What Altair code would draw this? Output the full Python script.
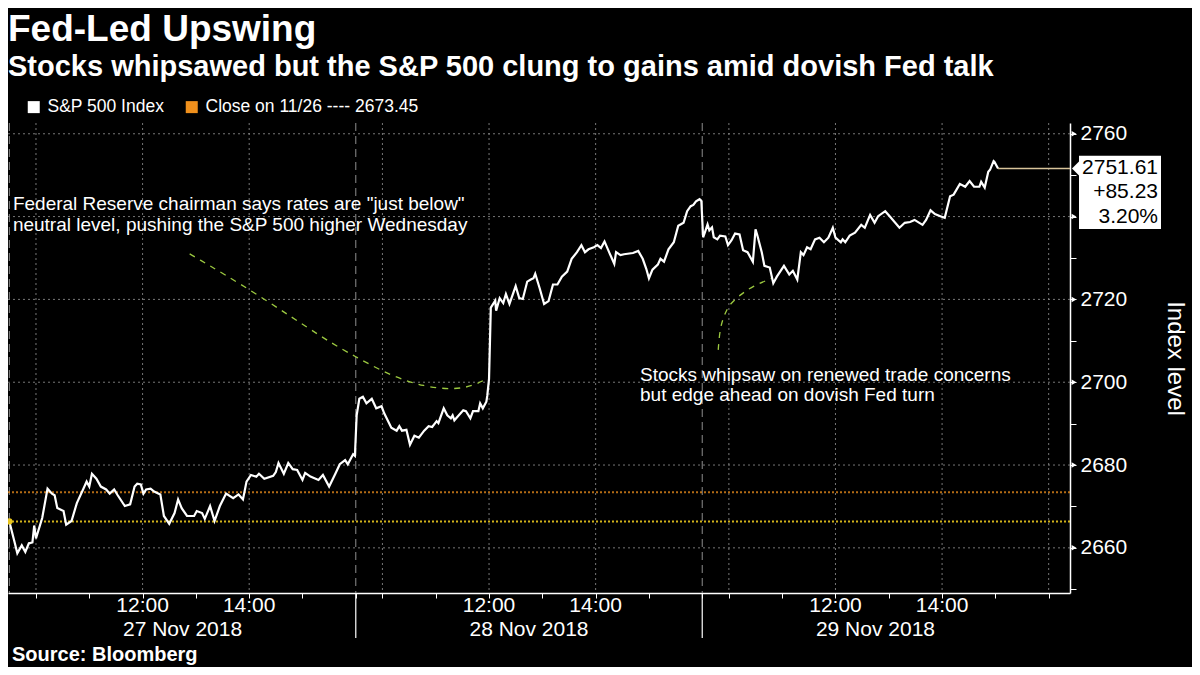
import altair as alt
import pandas as pd

FONT = "Liberation Sans"
TITLE = "Fed-Led Upswing"
SUBTITLE = "Stocks whipsawed but the S&P 500 clung to gains amid dovish Fed talk"
SERIES = "S&P 500 Index"
CLOSE_LABEL = "Close on 11/26 ---- 2673.45"
PRIOR_CLOSE = 2673.45
DAYS = ["27 Nov 2018", "28 Nov 2018", "29 Nov 2018"]
SOURCE = "Source: Bloomberg"

# ---- intraday S&P 500 ----
d1_time = ["09:30", "09:36", "09:39", "09:44", "09:48", "09:52", "09:56", "09:58", "10:00", "10:07",
           "10:13", "10:18", "10:21", "10:24", "10:31", "10:34", "10:40", "10:46", "10:53", "10:57",
           "11:00", "11:03", "11:08", "11:13", "11:19", "11:23", "11:28", "11:32", "11:40", "11:46",
           "11:51", "11:54", "11:58", "12:01", "12:04", "12:09", "12:13", "12:20", "12:24", "12:30",
           "12:36", "12:40", "12:44", "12:50", "12:58", "13:01", "13:07", "13:10", "13:16", "13:21",
           "13:27", "13:34", "13:42", "13:48", "13:53", "13:57", "14:02", "14:08", "14:11", "14:17",
           "14:27", "14:30", "14:33", "14:39", "14:44", "14:49", "14:54", "15:00", "15:03", "15:09",
           "15:18", "15:23", "15:30", "15:37", "15:42", "15:48", "15:51", "15:57", "15:59"]
d1_val = [2666.38, 2661.3, 2658.7, 2660.6, 2659.0, 2661.1, 2661.3, 2665.4, 2662.3, 2667.2,
          2674.3, 2673.1, 2672.7, 2669.6, 2668.9, 2665.6, 2666.5, 2670.8, 2674.1, 2676.0,
          2674.8, 2677.9, 2676.7, 2674.8, 2674.1, 2673.1, 2674.1, 2672.7, 2670.1, 2670.5,
          2674.8, 2675.5, 2675.3, 2673.1, 2674.1, 2674.3, 2673.6, 2672.9, 2667.7, 2665.8,
          2668.4, 2671.7, 2669.6, 2667.7, 2667.7, 2668.9, 2668.4, 2667.0, 2670.1, 2666.5,
          2670.1, 2673.1, 2672.0, 2672.9, 2671.7, 2676.0, 2677.6, 2677.2, 2677.9, 2676.7,
          2677.4, 2678.3, 2680.5, 2677.9, 2680.5, 2679.0, 2678.8, 2676.4, 2678.1, 2677.2,
          2676.4, 2677.6, 2674.8, 2677.9, 2680.2, 2681.2, 2680.2, 2682.6, 2682.2]

d2_time = ["09:31", "09:34", "09:38", "09:42", "09:48", "09:53", "09:59", "10:02", "10:10", "10:16",
           "10:19", "10:22", "10:27", "10:31", "10:36", "10:41", "10:47", "10:52", "10:56", "11:01",
           "11:03", "11:09", "11:13", "11:17", "11:19", "11:21", "11:26", "11:31", "11:34", "11:39",
           "11:42", "11:48", "11:50", "11:53", "11:57", "11:58", "12:00", "12:02", "12:07", "12:08",
           "12:12", "12:16", "12:19", "12:23", "12:30", "12:34", "12:38", "12:43", "12:47", "12:50",
           "12:52", "12:57", "13:02", "13:07", "13:12", "13:17", "13:22", "13:28", "13:33", "13:39",
           "13:44", "13:48", "13:52", "13:58", "14:02", "14:06", "14:10", "14:16", "14:21", "14:23",
           "14:28", "14:32", "14:42", "14:48", "14:53", "14:57", "15:00", "15:04", "15:10", "15:13",
           "15:17", "15:22", "15:28", "15:33", "15:39", "15:43", "15:47", "15:50", "15:53", "15:57",
           "15:59"]
d2_val = [2692.0, 2696.0, 2696.5, 2694.9, 2696.0, 2693.7, 2694.2, 2692.5, 2689.0, 2688.3,
          2689.4, 2688.3, 2688.5, 2684.9, 2687.1, 2686.6, 2688.3, 2689.4, 2689.2, 2690.6,
          2690.1, 2693.7, 2692.0, 2691.3, 2692.0, 2690.8, 2692.0, 2693.2, 2693.0, 2691.3,
          2693.0, 2693.0, 2694.9, 2693.7, 2695.3, 2696.7, 2700.8, 2718.0, 2719.7, 2717.3,
          2720.3, 2719.1, 2721.3, 2718.9, 2723.2, 2720.3, 2720.1, 2724.3, 2724.8, 2725.1,
          2726.2, 2722.7, 2718.9, 2719.6, 2723.6, 2723.6, 2725.5, 2726.7, 2729.8, 2731.4,
          2733.1, 2731.4, 2732.1, 2732.6, 2733.1, 2732.4, 2734.0, 2731.0, 2728.6, 2731.4,
          2730.7, 2730.9, 2731.2, 2731.7, 2729.8, 2727.4, 2725.1, 2727.2, 2728.4, 2729.8,
          2729.1, 2732.1, 2733.8, 2737.8, 2738.5, 2741.3, 2742.5, 2742.8, 2743.7, 2744.2,
          2743.8]

d3_time = ["09:31", "09:33", "09:36", "09:38", "09:41", "09:43", "09:47", "09:50", "09:56", "09:59",
           "10:03", "10:07", "10:12", "10:16", "10:21", "10:27", "10:30", "10:32", "10:37", "10:40",
           "10:46", "10:50", "10:54", "11:02", "11:08", "11:12", "11:17", "11:21", "11:24", "11:28",
           "11:32", "11:37", "11:42", "11:47", "11:52", "11:57", "12:00", "12:06", "12:08", "12:11",
           "12:16", "12:22", "12:29", "12:33", "12:39", "12:44", "12:48", "12:56", "13:01", "13:12",
           "13:18", "13:24", "13:29", "13:38", "13:42", "13:47", "13:52", "13:58", "14:03", "14:09",
           "14:13", "14:20", "14:26", "14:31", "14:36", "14:42", "14:44", "14:48", "14:52", "14:54",
           "14:58", "14:59", "15:03"]
d3_val = [2735.0, 2736.2, 2738.1, 2736.7, 2737.4, 2735.0, 2734.5, 2735.4, 2735.2, 2733.1,
          2734.3, 2735.9, 2735.7, 2731.9, 2731.4, 2729.1, 2736.9, 2735.5, 2731.4, 2728.1,
          2727.7, 2723.9, 2725.5, 2728.1, 2726.0, 2726.9, 2724.8, 2731.4, 2730.7, 2732.6,
          2732.1, 2734.5, 2734.9, 2733.8, 2734.9, 2737.3, 2734.9, 2733.8, 2734.5, 2733.8,
          2735.4, 2736.1, 2738.0, 2737.3, 2740.4, 2738.5, 2740.1, 2741.3, 2740.1, 2737.3,
          2738.5, 2738.7, 2739.2, 2738.0, 2739.2, 2741.5, 2740.6, 2740.1, 2739.7, 2744.9,
          2745.3, 2747.9, 2747.2, 2748.6, 2747.2, 2747.2, 2748.4, 2747.0, 2750.8, 2751.3,
          2753.4, 2753.2, 2751.61]

# annotation connectors (data units: day, time, index level)
conn1_time = ["12:53", "14:08", "15:26", "09:31", "10:10", "10:47", "11:20", "11:42", "11:57"]
conn1_day = [0, 0, 0, 1, 1, 1, 1, 1, 1]
conn1_val = [2731.0, 2721.5, 2710.2, 2706.0, 2701.5, 2698.9, 2698.2, 2699.1, 2700.8]
conn2_time = ["09:48", "09:50", "09:56", "10:01", "10:14", "10:27", "10:48"]
conn2_val = [2707.8, 2713.3, 2716.8, 2718.9, 2721.3, 2723.2, 2725.1]

note1 = ["Federal Reserve chairman says rates are \"just below\"",
         "neutral level, pushing the S&P 500 higher Wednesday"]
note1_pos = [(0, "09:34", 2743.0), (0, "09:34", 2738.0)]
note2 = ["Stocks whipsaw on renewed trade concerns", "but edge ahead on dovish Fed turn"]
note2_pos = [(1, "14:50", 2701.7), (1, "14:50", 2697.0)]

y_ticks = [2650, 2660, 2670, 2680, 2690, 2700, 2710, 2720, 2730, 2740, 2750, 2760]
y_grid = [2660, 2680, 2700, 2720, 2740, 2760]
hour_ticks = ["10:00", "11:00", "12:00", "13:00", "14:00", "15:00", "16:00"]
grid_times = ["10:00", "12:00", "14:00"]
label_times = ["12:00", "14:00"]

WHITE = "#ffffff"
ORANGE = "#f0901c"
YELLOW = "#e8c51e"
TAN = "#d8c49a"
GREEN = "#9cc940"
GRID = "#8c8c8c"


def tmin(day, hhmm):
    h, m = hhmm.split(":")
    return day * 390 + int(h) * 60 + int(m) - 570


W, H = 1062, 470
Y_DOMAIN = [2649.1, 2762.6]
PX = H / (Y_DOMAIN[1] - Y_DOMAIN[0])
BOX_UP, BOX_DOWN = 12.7, 60.5

rows = []
for d, (ts, vs) in enumerate([(d1_time, d1_val), (d2_time, d2_val), (d3_time, d3_val)]):
    for tt, vv in zip(ts, vs):
        rows.append({"t": tmin(d, tt), "v": vv, "series": SERIES})
line_df = pd.DataFrame(rows)
first_v = d1_val[0]
last_v = d3_val[-1]
last_t = tmin(2, d3_time[-1])
chg = last_v - first_v
pct = chg / first_v * 100

# axis labels hidden behind the last-value box
hide_lo = last_v - (BOX_DOWN + 8) / PX
hide_hi = last_v + (BOX_UP + 8) / PX

xscale = alt.Scale(domain=[-1.5, 1194], nice=False, zero=False)
yscale = alt.Scale(domain=Y_DOMAIN, nice=False, zero=False)

x_tick_vals = sorted(set(tmin(d, h) for d in range(3) for h in hour_ticks))
xaxis = alt.Axis(values=x_tick_vals, labels=False, grid=False, domainColor=WHITE, domainWidth=1.5,
                 tickColor=WHITE, tickSize=5, tickWidth=1, title=None)
yaxis = alt.Axis(orient="right", values=y_ticks, format="d",
                 labelExpr=(f"datum.value % 20 == 0 && (datum.value < {hide_lo:.2f} || "
                            f"datum.value > {hide_hi:.2f}) ? datum.label : ''"),
                 grid=False, domainColor=WHITE, domainWidth=1.5, tickColor=WHITE, tickSize=6,
                 labelPadding=4, labelColor=WHITE, labelFontSize=21, labelFont=FONT,
                 labelOverlap=False,
                 title="Index level", titleColor=WHITE, titleFontSize=24, titleFont=FONT,
                 titleFontWeight="normal", titleAngle=90, titleX=104, titleY=H / 2,
                 titleAlign="center", titleBaseline="middle")


def X(field="t"):
    return alt.X(f"{field}:Q", scale=xscale, axis=xaxis)


def Y(field="v"):
    return alt.Y(f"{field}:Q", scale=yscale, axis=yaxis)


hgrid = alt.Chart(pd.DataFrame({"v": y_grid})).mark_rule(
    color=GRID, strokeDash=[2, 3], strokeWidth=1, opacity=0.85).encode(y=Y())

vgrid_t = [tmin(d, h) for d in range(3) for h in grid_times] + [tmin(2, "16:00")]
vgrid = alt.Chart(pd.DataFrame({"t": vgrid_t})).mark_rule(
    color=GRID, strokeDash=[2, 3], strokeWidth=1, opacity=0.85).encode(x=X())

sep_df = pd.DataFrame({"t": [tmin(d, "09:30") for d in range(3)]})
sep = alt.Chart(sep_df).mark_rule(color="#8e8e8e", strokeDash=[8, 5], strokeWidth=1).encode(x=X())
sep_below = alt.Chart(pd.DataFrame({"t": [tmin(1, "09:30"), tmin(2, "09:30")]})).mark_rule(
    color=WHITE, strokeWidth=1.2).encode(x=X(), y=alt.value(H), y2=alt.value(H + 45))

close_rule = alt.Chart(pd.DataFrame({"v": [PRIOR_CLOSE]})).mark_rule(
    color=ORANGE, strokeDash=[2, 2], strokeWidth=2, opacity=0.75).encode(y=Y())
start_rule = alt.Chart(pd.DataFrame({"v": [first_v]})).mark_rule(
    color=YELLOW, strokeDash=[2, 2], strokeWidth=2, opacity=0.9).encode(y=Y())

conn_rows = [{"id": 1, "o": i, "t": tmin(d, tt), "v": vv}
             for i, (d, tt, vv) in enumerate(zip(conn1_day, conn1_time, conn1_val))]
conn_rows += [{"id": 2, "o": i, "t": tmin(2, tt), "v": vv}
              for i, (tt, vv) in enumerate(zip(conn2_time, conn2_val))]
conn = alt.Chart(pd.DataFrame(conn_rows)).mark_line(
    color=GREEN, strokeDash=[6, 6], strokeWidth=1.3, interpolate="basis").encode(
    x=X(), y=Y(), detail="id:N", order="o:Q")

main = alt.Chart(line_df).mark_line(color=WHITE, strokeWidth=2.2).encode(x=X(), y=Y())

start_pt = alt.Chart(pd.DataFrame({"t": [0], "v": [first_v]})).mark_point(
    filled=True, color=YELLOW, size=40, opacity=1).encode(x=X(), y=Y())

last_df = pd.DataFrame({"t": [last_t], "v": [last_v]})
tail = alt.Chart(last_df).mark_rule(color=TAN, strokeWidth=1.3).encode(
    x=X(), x2=alt.value(W), y=Y())
box = alt.Chart(last_df).mark_rect(color=WHITE, yOffset=-BOX_UP, y2Offset=BOX_DOWN).encode(
    x=alt.value(W + 9), x2=alt.value(W + 91), y=Y(), y2="v")
notch = alt.Chart(last_df).mark_point(
    shape="M 0.5 -1 L -0.5 0 L 0.5 1 Z", filled=True, color=WHITE, size=256, opacity=1).encode(
    x=alt.value(W + 6), y=Y())
box_lines = [f"{last_v:.2f}", f"{chg:+.2f}", f"{pct:.2f}%"]
box_texts = []
for i, s in enumerate(box_lines):
    box_texts.append(alt.Chart(last_df).mark_text(
        align="right", baseline="middle", font=FONT, fontSize=21, color="#000000",
        dy=-1 + 24.6 * i).encode(x=alt.value(W + 88), y=Y(), text=alt.value(s)))

tri = alt.Chart(pd.DataFrame({"v": y_grid})).mark_point(
    shape="triangle-right", filled=True, color=WHITE, size=30, opacity=1).encode(
    x=alt.value(W + 4), y=Y())

notes_df = pd.DataFrame(
    [{"t": tmin(d, tt), "v": vv, "txt": s} for s, (d, tt, vv) in zip(note1, note1_pos)] +
    [{"t": tmin(d, tt), "v": vv, "txt": s} for s, (d, tt, vv) in zip(note2, note2_pos)])
notes = alt.Chart(notes_df).mark_text(
    align="left", baseline="middle", font=FONT, fontSize=19, color=WHITE).encode(
    x=X(), y=Y(), text="txt:N")

tl_df = pd.DataFrame([{"t": tmin(d, h), "txt": h} for d in range(3) for h in label_times])
time_labels = alt.Chart(tl_df).mark_text(
    align="center", baseline="middle", font=FONT, fontSize=21, color=WHITE).encode(
    x=X(), y=alt.value(H + 13), text="txt:N")
dl_df = pd.DataFrame([{"t": d * 390 + 195, "txt": s} for d, s in enumerate(DAYS)])
date_labels = alt.Chart(dl_df).mark_text(
    align="center", baseline="middle", font=FONT, fontSize=21, color=WHITE).encode(
    x=X(), y=alt.value(H + 37), text="txt:N")

source = alt.Chart(pd.DataFrame({"txt": [SOURCE]})).mark_text(
    align="left", baseline="middle", font=FONT, fontSize=20, fontWeight="bold", color=WHITE).encode(
    x=alt.value(4), y=alt.value(H + 62), text="txt:N")

legend_df = pd.DataFrame({"t": [-500, -500], "v": [2700, 2700], "series": [SERIES, CLOSE_LABEL]})
legend_layer = alt.Chart(legend_df).mark_square(size=144, opacity=1, clip=True).encode(
    x=X(), y=Y(),
    fill=alt.Fill("series:N",
                  scale=alt.Scale(domain=[SERIES, CLOSE_LABEL], range=[WHITE, ORANGE]),
                  legend=alt.Legend(orient="none", legendX=17, legendY=-25, direction="horizontal",
                                    title=None, symbolType="square", symbolSize=144,
                                    symbolStrokeWidth=0, labelColor=WHITE, labelFontSize=17.5,
                                    labelFont=FONT, labelOffset=5, columnPadding=18,
                                    labelLimit=400)))

chart = alt.layer(
    hgrid, vgrid, sep, sep_below, close_rule, start_rule, conn, main, start_pt, tail,
    box, notch, *box_texts, tri, notes, time_labels, date_labels, source, legend_layer
).properties(
    width=W, height=H,
    autosize=alt.AutoSizeParams(type="none"),
    padding={"left": 0, "top": 115, "right": 122, "bottom": 74},
    background="#000000",
    title=alt.TitleParams(text=TITLE, subtitle=SUBTITLE, anchor="start", frame="group",
                          font=FONT, fontSize=37, fontWeight="bold", color=WHITE,
                          subtitleFont=FONT, subtitleFontSize=29, subtitleFontWeight="bold",
                          subtitleColor=WHITE, subtitlePadding=3.5, offset=15.5)
).configure_view(stroke=None)

chart.save("out.html", embed_options={"renderer": "svg", "actions": False})
